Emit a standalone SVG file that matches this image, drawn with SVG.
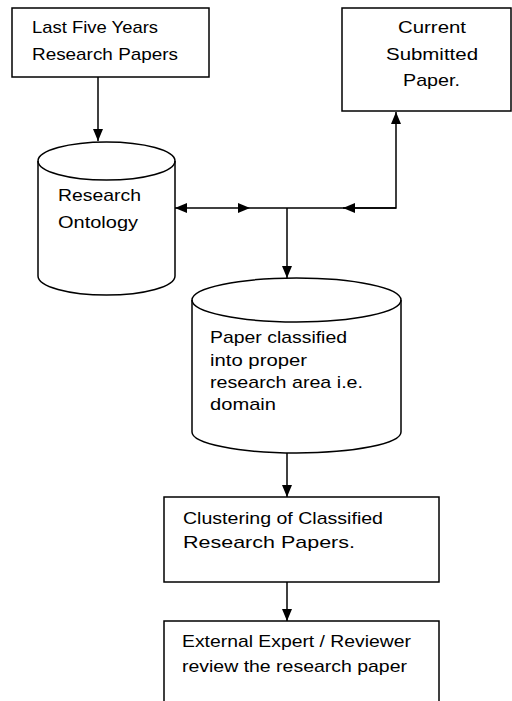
<svg xmlns="http://www.w3.org/2000/svg" width="512" height="701" viewBox="0 0 512 701">
<style>
.box{fill:#fff;stroke:#000;stroke-width:1.5}
.cyl{fill:#fff;stroke:#000;stroke-width:1.5}
.t{font-family:"Liberation Sans",Arial,sans-serif;font-size:17px;fill:#000}
.c{fill:none;stroke:#000;stroke-width:1.5}
</style>
<defs>
<marker id="ah" markerUnits="userSpaceOnUse" markerWidth="12" markerHeight="10" refX="12" refY="5" orient="auto-start-reverse">
<path d="M0,0 L12,5 L0,10 z" fill="#000"/>
</marker>
</defs>
<rect width="512" height="701" fill="#fff"/>
<g id="n1">
<rect class="box" x="12" y="8" width="197" height="69"/>
<text class="t" x="32" y="33" textLength="126" lengthAdjust="spacingAndGlyphs">Last Five Years</text>
<text class="t" x="32" y="60" textLength="146" lengthAdjust="spacingAndGlyphs">Research Papers</text>
</g>
<g id="n2">
<rect class="box" x="342" y="8" width="169" height="103"/>
<text class="t" x="398" y="33" textLength="68" lengthAdjust="spacingAndGlyphs">Current</text>
<text class="t" x="386" y="60" textLength="92" lengthAdjust="spacingAndGlyphs">Submitted</text>
<text class="t" x="403" y="86" textLength="57" lengthAdjust="spacingAndGlyphs">Paper.</text>
</g>
<g id="n3">
<path class="cyl" d="M38,161 A68.5,19 0 0 1 175,161 V276 A68.5,19 0 0 1 38,276 Z"/>
<path class="c" d="M38,161 A68.5,19 0 0 0 175,161"/>
<text class="t" x="58" y="201" textLength="83" lengthAdjust="spacingAndGlyphs">Research</text>
<text class="t" x="58" y="228" textLength="80" lengthAdjust="spacingAndGlyphs">Ontology</text>
</g>
<g id="n4">
<path class="cyl" d="M192,300 A104.5,22 0 0 1 401,300 V432 A104.5,21 0 0 1 192,432 Z"/>
<path class="c" d="M192,300 A104.5,22 0 0 0 401,300"/>
<text class="t" x="210" y="343" textLength="137" lengthAdjust="spacingAndGlyphs">Paper classified</text>
<text class="t" x="210" y="366" textLength="97" lengthAdjust="spacingAndGlyphs">into proper</text>
<text class="t" x="210" y="388" textLength="153" lengthAdjust="spacingAndGlyphs">research area i.e.</text>
<text class="t" x="210" y="410" textLength="66" lengthAdjust="spacingAndGlyphs">domain</text>
</g>
<g id="n5">
<rect class="box" x="164" y="497" width="275" height="85"/>
<text class="t" x="183" y="524" textLength="200" lengthAdjust="spacingAndGlyphs">Clustering of Classified</text>
<text class="t" x="183" y="548" textLength="172" lengthAdjust="spacingAndGlyphs">Research Papers.</text>
</g>
<g id="n6">
<rect class="box" x="164" y="621" width="275" height="90"/>
<text class="t" x="182" y="647" textLength="229" lengthAdjust="spacingAndGlyphs">External Expert / Reviewer</text>
<text class="t" x="182" y="672" textLength="225" lengthAdjust="spacingAndGlyphs">review the research paper</text>
</g>
<g id="connectors">
<path class="c" d="M98,77 V141" marker-end="url(#ah)"/>
<path class="c" d="M175,208 H250" marker-start="url(#ah)" marker-end="url(#ah)"/>
<path class="c" d="M250,208 H396 V112" marker-end="url(#ah)"/>
<path class="c" d="M396,208 H343" marker-end="url(#ah)"/>
<path class="c" d="M287,208 V278" marker-end="url(#ah)"/>
<path class="c" d="M287,453 V497" marker-end="url(#ah)"/>
<path class="c" d="M287,582 V621" marker-end="url(#ah)"/>
</g>
</svg>
